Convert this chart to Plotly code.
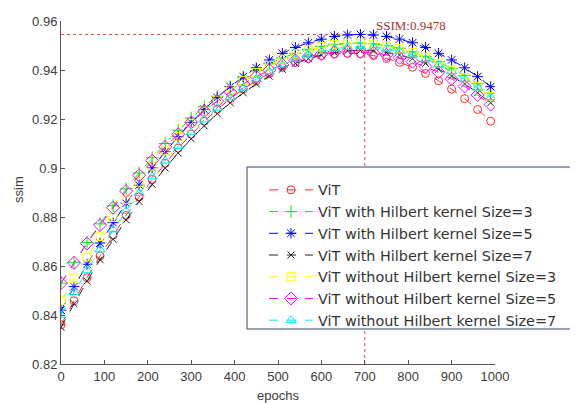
import plotly.graph_objects as go

epochs = list(range(0, 1000, 30))

vit = [0.8360, 0.8458, 0.8552, 0.8641, 0.8726, 0.8806, 0.8882, 0.8953, 0.9019, 0.9081,
       0.9138, 0.9191, 0.9239, 0.9283, 0.9322, 0.9356, 0.9386, 0.9411, 0.9431, 0.9447,
       0.9459, 0.9466, 0.9468, 0.9466, 0.9459, 0.9447, 0.9431, 0.9411, 0.9386, 0.9356,
       0.9322, 0.9283, 0.9239, 0.9191]
with3 = [0.8530, 0.8615, 0.8696, 0.8772, 0.8846, 0.8915, 0.8980, 0.9042, 0.9100, 0.9154,
         0.9204, 0.9250, 0.9293, 0.9332, 0.9367, 0.9398, 0.9425, 0.9449, 0.9468, 0.9484,
         0.9496, 0.9505, 0.9509, 0.9510, 0.9507, 0.9500, 0.9489, 0.9474, 0.9456, 0.9434,
         0.9407, 0.9378, 0.9344, 0.9306]
with5 = [0.8420, 0.8516, 0.8607, 0.8694, 0.8777, 0.8856, 0.8930, 0.9001, 0.9067, 0.9128,
         0.9186, 0.9239, 0.9288, 0.9332, 0.9373, 0.9409, 0.9441, 0.9468, 0.9492, 0.9511,
         0.9526, 0.9537, 0.9543, 0.9545, 0.9543, 0.9537, 0.9526, 0.9511, 0.9492, 0.9468,
         0.9441, 0.9409, 0.9373, 0.9332]
with7 = [0.8350, 0.8446, 0.8538, 0.8626, 0.8709, 0.8788, 0.8863, 0.8933, 0.9000, 0.9061,
         0.9119, 0.9172, 0.9222, 0.9266, 0.9307, 0.9343, 0.9375, 0.9403, 0.9427, 0.9446,
         0.9461, 0.9471, 0.9478, 0.9480, 0.9478, 0.9471, 0.9461, 0.9446, 0.9427, 0.9403,
         0.9375, 0.9343, 0.9307, 0.9266]
without3 = [0.8460, 0.8551, 0.8637, 0.8720, 0.8798, 0.8872, 0.8942, 0.9008, 0.9070, 0.9128,
            0.9182, 0.9232, 0.9277, 0.9319, 0.9357, 0.9390, 0.9419, 0.9444, 0.9466, 0.9483,
            0.9495, 0.9504, 0.9509, 0.9510, 0.9506, 0.9499, 0.9487, 0.9472, 0.9452, 0.9428,
            0.9400, 0.9368, 0.9332, 0.9292]
without5 = [0.8530, 0.8613, 0.8692, 0.8767, 0.8838, 0.8906, 0.8970, 0.9030, 0.9086, 0.9138,
            0.9187, 0.9232, 0.9273, 0.9310, 0.9343, 0.9373, 0.9399, 0.9421, 0.9439, 0.9454,
            0.9465, 0.9472, 0.9475, 0.9474, 0.9470, 0.9462, 0.9450, 0.9434, 0.9414, 0.9391,
            0.9364, 0.9333, 0.9298, 0.9259]
without7 = [0.8400, 0.8493, 0.8582, 0.8667, 0.8748, 0.8824, 0.8897, 0.8965, 0.9029, 0.9089,
            0.9145, 0.9197, 0.9245, 0.9288, 0.9327, 0.9363, 0.9394, 0.9421, 0.9443, 0.9462,
            0.9476, 0.9487, 0.9493, 0.9495, 0.9493, 0.9487, 0.9476, 0.9462, 0.9443, 0.9421,
            0.9394, 0.9363, 0.9327, 0.9288]

names = ["ViT",
         "ViT with Hilbert kernel Size=3",
         "ViT with Hilbert kernel Size=5",
         "ViT with Hilbert kernel Size=7",
         "ViT without Hilbert kernel Size=3",
         "ViT without Hilbert kernel Size=5",
         "ViT without Hilbert kernel Size=7"]
series = [vit, with3, with5, with7, without3, without5, without7]
colors = ["#ff2a2a", "#00ee00", "#0000ff", "#222222", "#ffff00", "#ff00ff", "#00eeee"]
symbols = ["circle-open", "cross-thin-open", "asterisk-open", "x-thin-open",
           "square-open", "diamond-open", "triangle-up-open"]
sizes = [8, 9, 9, 7, 8, 10, 9]

yticks = [0.82, 0.84, 0.86, 0.88, 0.9, 0.92, 0.94, 0.96]
ytick_text = ["0.82", "0.84", "0.86", "0.88", "0.9", "0.92", "0.94", "0.96"]
xticks = [0, 100, 200, 300, 400, 500, 600, 700, 800, 900, 1000]

mark_epoch = 700
mark_label = "SSIM:0.9478"

FW, FH = 570, 395          # page has an 8px body margin
L, R, T, B = 53, 487, 13, 356
W, H = R - L, B - T

fig = go.Figure()
for name, ys, c, s, sz in zip(names, series, colors, symbols, sizes):
    fig.add_trace(go.Scatter(
        x=epochs, y=ys, name=name, mode="lines+markers",
        line=dict(color=c, width=1, dash="dash"),
        marker=dict(symbol=s, size=sz, color=c, line=dict(color=c, width=1)),
    ))

peak = max(with5)
red_dot = "#d84a4a"
fig.add_shape(type="line", xref="x", yref="y", x0=0, x1=mark_epoch, y0=peak, y1=peak,
              line=dict(color=red_dot, width=1, dash="dot"), layer="below")
fig.add_shape(type="line", xref="x", yref="y", x0=mark_epoch, x1=mark_epoch, y0=0.82, y1=peak,
              line=dict(color=red_dot, width=1, dash="dot"), layer="below")
# legend box
fig.add_shape(type="rect", xref="paper", yref="paper",
              x0=(239 - L) / W, x1=(568 - L) / W, y0=(B - 321) / H, y1=(B - 159) / H,
              line=dict(color="#3a4560", width=1), fillcolor="white", layer="above")

fig.add_annotation(x=mark_epoch, y=peak, xref="x", yref="y", text=mark_label,
                   showarrow=False, xanchor="center", yanchor="bottom", xshift=46, yshift=-1,
                   font=dict(family="Liberation Serif", size=13, color="#a83232"))

axis_font = dict(family="Liberation Sans", size=13, color="#3c3c3c")
fig.add_annotation(x=0, y=(B - 182) / H, xref="paper", yref="paper", text="ssim",
                   showarrow=False, textangle=-90, xanchor="center", yanchor="middle",
                   xshift=10 - L, font=axis_font)

fig.update_layout(
    width=FW, height=FH,
    margin=dict(l=L, r=FW - R, t=T, b=FH - B, autoexpand=False),
    paper_bgcolor="white", plot_bgcolor="white",
    showlegend=True,
    legend=dict(x=(256 - L) / W, y=(B - 166) / H, xanchor="left", yanchor="top",
                bgcolor="rgba(0,0,0,0)", borderwidth=0, itemwidth=44,
                font=dict(family="DejaVu Sans", size=14.4, color="#333333"),
                tracegroupgap=0),
    xaxis=dict(range=[0, 1000], tickvals=xticks, ticks="inside", ticklen=4,
               tickcolor="#555555", showline=True, linecolor="#555555", linewidth=1,
               showgrid=False, zeroline=False, tickfont=axis_font,
               title=dict(text="epochs", font=axis_font, standoff=11), automargin=False),
    yaxis=dict(range=[0.82, 0.96], tickvals=yticks, ticktext=ytick_text, ticks="inside",
               ticklen=4, tickcolor="#555555", showline=True, linecolor="#555555",
               linewidth=1, showgrid=False, zeroline=False, tickfont=axis_font,
               automargin=False),
)

fig.write_html("out.html")
